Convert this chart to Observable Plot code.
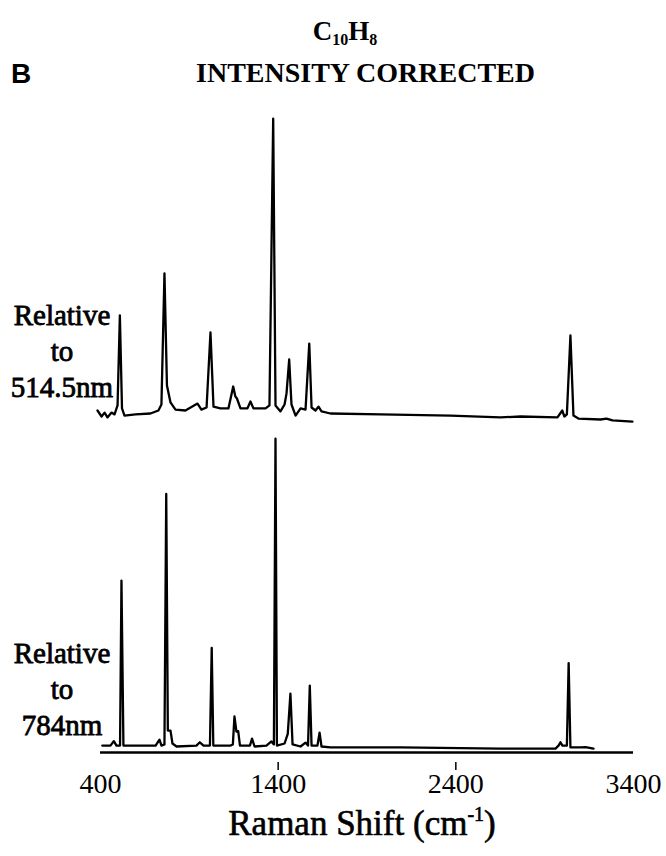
<!DOCTYPE html>
<html>
<head>
<meta charset="utf-8">
<script src="https://cdn.jsdelivr.net/npm/d3@7"></script>
<script src="https://cdn.jsdelivr.net/npm/@observablehq/plot@0.6"></script>
<style>
  html, body { margin: 0; padding: 0; background: #fff; }
  #wrap { position: relative; width: 666px; height: 856px; overflow: hidden; font-family: "Liberation Serif", serif; color: #000; }
  .abs { position: absolute; white-space: nowrap; }
  #letter { left: 11px; top: 58px; font: bold 28px "Liberation Sans", sans-serif; }
  #formula { left: 0; width: 690px; top: 16px; text-align: center; font: bold 27px "Liberation Serif", serif; }
  #formula sub { font-size: 16px; vertical-align: -5px; }
  #title { left: 0; width: 731px; top: 57px; text-align: center; font: bold 28px "Liberation Serif", serif; }
  .side { width: 124px; text-align: center; font-size: 29px; line-height: 36px; -webkit-text-stroke: 0.8px #000; }
  #lab1 { left: 0; top: 297px; }
  #lab2 { left: 0; top: 635px; }
  #plot { position: absolute; left: 0; top: 100px; }
  #xlabel { left: 0; width: 724px; top: 804px; text-align: center; font-size: 35px; -webkit-text-stroke: 0.6px #000; }
  #xlabel sup { font-size: 20px; vertical-align: 14px; line-height: 0; }
</style>
</head>
<body>
<div id="wrap">
  <div class="abs" id="letter">B</div>
  <div class="abs" id="formula">C<sub>10</sub>H<sub>8</sub></div>
  <div class="abs" id="title">INTENSITY CORRECTED</div>
  <div class="abs side" id="lab1">Relative<br>to<br>514.5nm</div>
  <div class="abs side" id="lab2">Relative<br>to<br>784nm</div>
  <div id="plot"></div>
  <div class="abs" id="xlabel">Raman Shift (cm<sup>-1</sup>)</div>
</div>
<script>
// Spectrum excited relative to 514.5 nm (upper trace): Raman shift (cm-1) and relative intensity
const shift514 = [383, 406, 423, 439, 462, 479, 496, 509, 521, 535, 597, 681, 726, 743, 760, 774, 794, 822, 878, 946, 968, 997, 1019, 1036, 1075, 1120, 1147, 1159, 1168, 1188, 1227, 1244, 1261, 1329, 1351, 1372, 1385, 1413, 1436, 1447, 1462, 1475, 1498, 1526, 1554, 1575, 1588, 1610, 1627, 1644, 1694, 1976, 2370, 2651, 2764, 2972, 2999, 3011, 3025, 3045, 3062, 3090, 3214, 3248, 3282, 3394];
const int514 = [0, -2, -0.7, -2.3, -0.7, -1.3, 1.7, 31.7, 0.7, -1.7, -1.3, -1, 0, 2, 45.7, 8.3, 2.7, 0.3, 0, 2.3, 0.3, 1, 26, 1.3, 0.7, 0.7, 8, 4.7, 4, 0.7, 0.7, 3, 0.7, 0.7, 1.7, 97.3, 1.7, -0.3, 2, 5.7, 17, 2, -1.7, 0.7, 0.3, 22.3, 1, 0, 1.3, -0.3, -1, -1.3, -1.7, -2.3, -2, -2.3, 0, -2, -1.3, 25, -1.7, -2.7, -3, -2.7, -3.3, -3.7];

// Spectrum relative to 784 nm (lower trace)
const shift784 = [410, 456, 475, 490, 510, 518, 529, 710, 732, 743, 760, 770, 779, 794, 805, 828, 940, 959, 980, 1016, 1026, 1035, 1132, 1145, 1154, 1165, 1175, 1185, 1241, 1253, 1267, 1334, 1362, 1376, 1385, 1393, 1436, 1454, 1469, 1481, 1526, 1554, 1568, 1578, 1588, 1621, 1633, 1644, 1694, 2089, 2651, 2961, 2978, 2989, 3000, 3025, 3035, 3045, 3102, 3130, 3175];
const int784 = [0.3, 0.3, 1.8, 0.3, 0.3, 55.3, 0.3, 0.3, 2.3, 0.3, 0.7, 84.2, 5.3, 5.3, 1, 0, 0.3, 1.4, 0.3, 0.3, 32.9, 0.3, 0.3, 0.7, 10, 5, 5.1, 0.3, 0.3, 2.6, 0, 0.3, 1.7, 0.7, 102.6, 0.3, 1, 4.2, 17.6, 0.7, 0, 1.3, 0.3, 20.3, 0.3, 0.3, 4.6, 0, -0.3, -0.3, -0.7, -0.7, 0.3, 1.4, 0.3, 0.3, 27.8, -0.3, -0.3, -0.2, -0.7];

// Axis tick labels
const tickLabels = [400, 1400, 2400, 3400];
const tickMarks = [1400, 2400];

// layout: vertical offset of the upper trace
const upperOffset = 112;
const axisLevel = -2;

const upper = shift514.map((s, i) => ({shift: s, value: int514[i] + upperOffset}));
const lower = shift784.map((s, i) => ({shift: s, value: int784[i]}));

const chart = Plot.plot({
  width: 666,
  height: 700,
  marginTop: 0,
  marginBottom: 38,
  marginLeft: 100,
  marginRight: 33,
  style: {fontFamily: "Liberation Serif, serif", fontSize: "28px", color: "#000", background: "transparent"},
  x: {domain: [400, 3400]},
  y: {domain: [-5.333, 215.333], axis: null},
  marks: [
    Plot.ruleY([axisLevel], {x1: 400, x2: 3400, stroke: "#000", strokeWidth: 2.6}),
    Plot.line(upper, {x: "shift", y: "value", stroke: "#000", strokeWidth: 2.3, strokeLinejoin: "round", curve: "linear"}),
    Plot.line(lower, {x: "shift", y: "value", stroke: "#000", strokeWidth: 2.3, strokeLinejoin: "round", curve: "linear"}),
    Plot.axisX({ticks: tickMarks, tickSize: 8, tickFormat: () => "", label: null, strokeWidth: 1.5}),
    Plot.axisX({ticks: tickLabels, tickSize: 0, tickPadding: 11, tickFormat: d => String(d), label: null, fontSize: 28, stroke: "#000", strokeWidth: 0.8})
  ]
});
document.getElementById("plot").appendChild(chart);
</script>
</body>
</html>
